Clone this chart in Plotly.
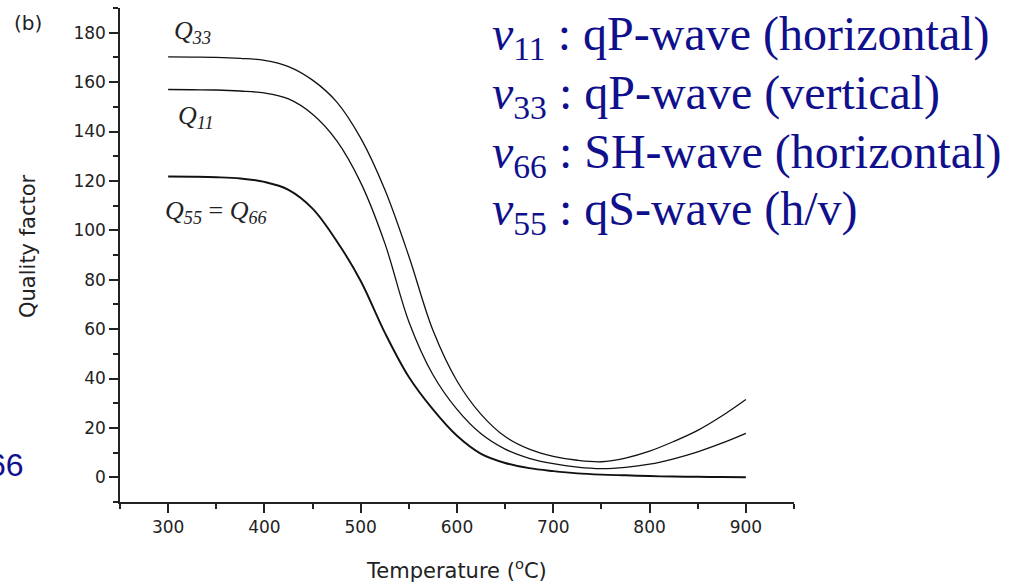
import plotly.graph_objects as go

# Temperature grid (°C)
temperature = [300, 325, 350, 375, 400, 425, 450, 475, 500, 525, 550, 575, 600,
               625, 650, 675, 700, 725, 750, 775, 800, 825, 850, 875, 900]

# Quality factors
q33 = [170.2, 170.1, 170.0, 169.6, 168.8, 166.3, 160.8, 152.0, 137.3, 116.5, 89.5, 59.5, 39.0,
       25.5, 16.5, 11.4, 8.5, 6.9, 6.3, 7.8, 10.6, 14.5, 19.0, 24.8, 31.5]
q11 = [157.0, 156.9, 156.8, 156.4, 155.6, 153.2, 147.0, 136.3, 119.3, 94.8, 63.0, 41.5, 27.5,
       17.6, 11.4, 7.7, 5.5, 4.1, 3.5, 4.0, 5.3, 7.5, 10.3, 13.8, 17.8]
q55 = [121.8, 121.7, 121.5, 121.0, 119.6, 116.4, 108.8, 95.7, 79.5, 58.6, 40.6, 27.5, 16.8,
       9.5, 5.8, 3.7, 2.5, 1.6, 1.1, 0.8, 0.5, 0.3, 0.2, 0.1, 0.0]

x_ticks = [300, 400, 500, 600, 700, 800, 900]
y_ticks = [0, 20, 40, 60, 80, 100, 120, 140, 160, 180]

legend_lines = [
    "<i>v</i><sub>11</sub> : qP-wave (horizontal)",
    "<i>v</i><sub>33</sub> : qP-wave (vertical)",
    "<i>v</i><sub>66</sub> : SH-wave (horizontal)",
    "<i>v</i><sub>55</sub> : qS-wave (h/v)",
]

fig = go.Figure()
for vals, w in [(q33, 1.3), (q11, 1.3), (q55, 1.9)]:
    fig.add_trace(go.Scatter(x=temperature, y=vals, mode="lines",
                             line=dict(color="#111", width=w, shape="spline", smoothing=1.0),
                             showlegend=False, hoverinfo="skip"))

L, R, T, B = 120, 219, 8, 82
W, H = 1013, 584
pw, ph = W - L - R, H - T - B

def px(x):
    return (x - L) / pw

def py(y):
    return (H - B - y) / ph

sans = "DejaVu Sans"
arial = "Liberation Sans"
serif = "Liberation Serif"
blue = "rgb(16,16,140)"
ink = "#222"

ann = []
# curve labels
ann.append(dict(x=304, y=180.4, xref="x", yref="y", text="<i>Q</i><sub><i>33</i></sub>",
                xanchor="left", yanchor="middle",
                showarrow=False, font=dict(family=serif, size=26, color=ink)))
ann.append(dict(x=308, y=146, xref="x", yref="y", text="<i>Q</i><sub><i>11</i></sub>",
                xanchor="left", yanchor="middle",
                showarrow=False, font=dict(family=serif, size=26, color=ink)))
ann.append(dict(x=295, y=107.6, xref="x", yref="y",
                text="<i>Q</i><sub><i>55</i></sub> = <i>Q</i><sub><i>66</i></sub>",
                xanchor="left", yanchor="middle",
                showarrow=False, font=dict(family=serif, size=26, color=ink)))
# (b)
ann.append(dict(x=px(28), y=py(23), xref="paper", yref="paper", text="(b)", showarrow=False,
                xanchor="center", yanchor="middle", font=dict(family=sans, size=20, color=ink)))
# cut-off blue text
ann.append(dict(x=px(26), y=py(465), xref="paper", yref="paper", text="66", showarrow=False,
                xanchor="right", yanchor="middle", font=dict(family=arial, size=32, color=blue)))
# axis titles
ann.append(dict(x=px(456), y=py(569), xref="paper", yref="paper", text="Temperature (<sup>o</sup>C)",
                showarrow=False, xanchor="center", yanchor="middle",
                font=dict(family=sans, size=21, color=ink)))
ann.append(dict(x=px(28), y=py(246), xref="paper", yref="paper", text="Quality factor",
                showarrow=False, xanchor="center", yanchor="middle", textangle=-90,
                font=dict(family=sans, size=21, color=ink)))
# right-hand text
for txt, yc in zip(legend_lines, [37, 96, 155, 212]):
    ann.append(dict(x=px(490), y=py(yc), xref="paper", yref="paper", text=txt, showarrow=False,
                    xanchor="left", yanchor="middle", font=dict(family=serif, size=48, color=blue)))

axis_common = dict(showline=True, linecolor=ink, linewidth=1.5, ticks="outside",
                   tickcolor=ink, tickwidth=1.5, showgrid=False, zeroline=False, automargin=False,
                   tickfont=dict(family=sans, size=17, color=ink))

fig.update_layout(
    width=W, height=H,
    margin=dict(l=L, r=R, t=T, b=B),
    paper_bgcolor="white", plot_bgcolor="white",
    xaxis=dict(range=[250, 950], tickvals=x_ticks, ticklen=9,
               minor=dict(dtick=50, tick0=250, ticks="outside", ticklen=5, tickcolor=ink, tickwidth=1.5),
               **axis_common),
    yaxis=dict(range=[-10, 190], tickvals=y_ticks, ticklen=9,
               minor=dict(dtick=10, tick0=0, ticks="outside", ticklen=5, tickcolor=ink, tickwidth=1.5),
               **axis_common),
    annotations=ann,
)

fig.write_html("out.html")
